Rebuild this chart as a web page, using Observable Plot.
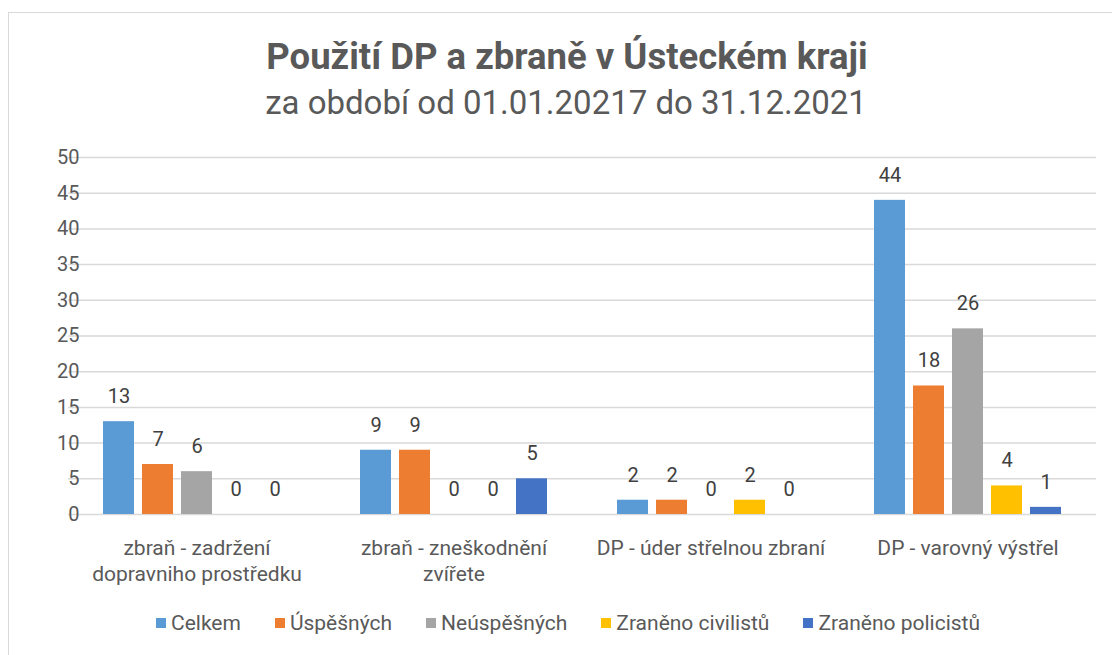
<!DOCTYPE html>
<html>
<head>
<meta charset="utf-8">
<script src="https://cdn.jsdelivr.net/npm/d3@7"></script>
<script src="https://cdn.jsdelivr.net/npm/@observablehq/plot@0.6"></script>
<style>
  html, body { margin: 0; padding: 0; background: #fff; width: 1112px; height: 655px; overflow: hidden; }
  body { position: relative; font-family: Roboto, sans-serif; color: #595959; }
  #frame { position: absolute; left: 8px; top: 12px; width: 1200px; height: 800px; border: 1px solid #d9d9d9; box-sizing: border-box; }
  #title { position: absolute; left: 11px; width: 1112px; top: 35px; text-align: center; font-size: 36.5px; font-weight: bold; color: #595959; }
  #subtitle { position: absolute; left: 10px; width: 1112px; top: 83px; text-align: center; font-size: 33px; color: #595959; }
  #chart { position: absolute; left: 0; top: 140px; }
  #legend { position: absolute; left: 12px; width: 1112px; top: 611px; display: flex; justify-content: center; gap: 34px; font-size: 21px; color: #595959; }
  .item { display: flex; align-items: center; gap: 5px; }
  .sw { width: 10px; height: 10px; display: inline-block; }
</style>
</head>
<body>
<div id="frame"></div>
<div id="title">Použití DP a zbraně v Ústeckém kraji</div>
<div id="subtitle">za období od 01.01.20217 do 31.12.2021</div>
<div id="chart"></div>
<div id="legend"></div>
<script>
const categories = [
  "zbraň - zadržení dopravniho prostředku",
  "zbraň - zneškodnění zvířete",
  "DP - úder střelnou zbraní",
  "DP - varovný výstřel"
];
const categoryLabels = [
  "zbraň - zadržení\ndopravniho prostředku",
  "zbraň - zneškodnění\nzvířete",
  "DP - úder střelnou zbraní",
  "DP - varovný výstřel"
];
const series = ["Celkem", "Úspěšných", "Neúspěšných", "Zraněno civilistů", "Zraněno policistů"];
const colors = ["#5B9BD5", "#ED7D31", "#A5A5A5", "#FFC000", "#4472C4"];
const celkem = [13, 9, 2, 44];
const uspesnych = [7, 9, 2, 18];
const neuspesnych = [6, 0, 0, 26];
const zranenoCivilistu = [0, 0, 2, 4];
const zranenoPolicistu = [0, 5, 0, 1];
const yTicks = [0, 5, 10, 15, 20, 25, 30, 35, 40, 45, 50];

const seriesValues = [celkem, uspesnych, neuspesnych, zranenoCivilistu, zranenoPolicistu];
const data = [];
categories.forEach((c, i) => {
  series.forEach((s, j) => {
    data.push({cat: c, series: s, value: seriesValues[j][i]});
  });
});
const labelOf = new Map(categories.map((c, i) => [c, categoryLabels[i]]));

const font = 'Roboto, sans-serif';

const chart = Plot.plot({
  width: 1112,
  height: 440,
  marginLeft: 68,
  marginRight: 15,
  marginTop: 17,
  marginBottom: 66,
  style: {fontFamily: font, fontSize: "20px", color: "#595959", background: "transparent", overflow: "visible"},
  fx: {domain: categories, paddingInner: 0.24, paddingOuter: 0.12, label: null},
  x: {domain: series, paddingInner: 0.2, paddingOuter: 0.1, axis: null},
  y: {domain: [0, 50], ticks: yTicks, label: null},
  color: {domain: series, range: colors},
  marks: [
    Plot.ruleY(yTicks, {stroke: "#d9d9d9", strokeWidth: 1.5, insetLeft: -31, insetRight: -31}),
    Plot.axisY(yTicks, {tickSize: 0, tickPadding: 20, fontSize: 20, fill: "#595959", label: null}),
    Plot.axisFx({anchor: "bottom", tickSize: 0, tickPadding: 22, fontSize: 21, fill: "#595959", lineHeight: 1.25, tickFormat: d => labelOf.get(d), label: null}),
    Plot.barY(data, {fx: "cat", x: "series", y: "value", fill: "series"}),
    Plot.text(data, {fx: "cat", x: "series", y: "value", text: d => String(d.value), dy: -25, fontSize: 20, fill: "#404040"})
  ]
});
document.getElementById("chart").appendChild(chart);

const legend = document.getElementById("legend");
series.forEach((s, i) => {
  const item = document.createElement("div");
  item.className = "item";
  const sw = document.createElement("span");
  sw.className = "sw";
  sw.style.background = colors[i];
  const t = document.createElement("span");
  t.textContent = s;
  item.appendChild(sw);
  item.appendChild(t);
  legend.appendChild(item);
});
</script>
</body>
</html>
